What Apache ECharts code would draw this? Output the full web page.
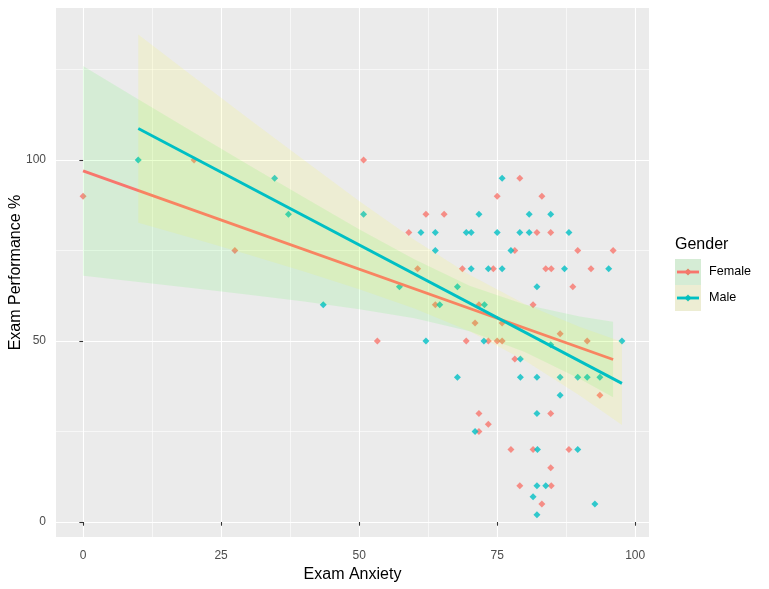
<!DOCTYPE html>
<html><head><meta charset="utf-8">
<script src="https://cdn.jsdelivr.net/npm/echarts@6/dist/echarts.min.js"></script>
<style>html,body{margin:0;padding:0;background:#fff}#c{width:769px;height:589px}</style>
</head><body><div id="c"></div>
<script>
// ---- data ----
const femaleX = [0, 20.1, 27.5, 50.8, 53.3, 59, 60.6, 62.1, 63.8, 65.4, 68.7, 69.4, 71, 71.7, 71.7, 71.7, 73.4, 73.4, 74.3, 75, 75, 75.9, 75.9, 77.5, 78.2, 78.2, 79.1, 79.1, 81.5, 81.5, 82.2, 83.1, 83.1, 83.8, 84.7, 84.8, 84.7, 84.7, 84.8, 86.4, 88, 88.7, 89.6, 91.3, 92, 93.6, 96];
const femaleY = [90, 100, 75, 100, 50, 80, 70, 85, 60, 85, 70, 50, 55, 60, 30, 25, 50, 27, 70, 90, 50, 55, 50, 20, 75, 45, 95, 10, 60, 20, 80, 90, 5, 70, 80, 70, 30, 15, 10, 52, 20, 65, 75, 50, 70, 35, 75];
const maleX = [10, 34.7, 37.2, 43.5, 50.8, 57.3, 61.2, 62.1, 63.8, 63.8, 64.6, 67.8, 67.8, 69.4, 70.3, 70.3, 71, 71.7, 72.7, 72.6, 73.4, 75, 75.9, 75.9, 77.5, 79.1, 79.2, 79.2, 80.8, 80.8, 81.5, 82.2, 82.2, 82.2, 82.3, 82.2, 82.2, 83.8, 84.7, 84.7, 86.4, 86.4, 87.2, 88, 89.6, 89.6, 91.3, 92.7, 93.6, 95.2, 97.6];
const maleY = [100, 95, 85, 60, 85, 65, 80, 50, 80, 75, 60, 65, 40, 80, 80, 70, 25, 85, 60, 50, 70, 80, 95, 70, 75, 80, 45, 40, 85, 80, 7, 65, 40, 30, 20, 10, 2, 10, 85, 49, 40, 35, 70, 80, 40, 20, 40, 5, 40, 70, 50];

// fitted lines (end points)
const femaleFitX = [0, 96];
const femaleFitY = [97.0, 44.9];
const maleFitX = [10, 97.6];
const maleFitY = [108.7, 38.3];

// confidence bands (edges)
const femaleBandX = [0, 10, 20, 30, 40, 50, 60, 70, 80, 90, 96];
const femaleBandLow = [68.0, 66.3, 64.6, 62.8, 60.9, 58.8, 56.3, 52.7, 47.0, 39.5, 34.5];
const femaleBandHigh = [126.0, 116.8, 107.7, 98.6, 89.7, 80.9, 72.6, 65.3, 60.1, 56.8, 55.3];
const maleBandX = [10, 20, 30, 40, 50, 60, 70, 80, 90, 97.6];
const maleBandLow = [82.7, 78.3, 73.8, 69.2, 64.3, 59.0, 52.7, 44.6, 34.9, 26.8];
const maleBandHigh = [134.7, 123.0, 111.4, 100.0, 88.7, 78.0, 68.3, 60.2, 53.9, 49.8];

// ticks
const xMajorTicks = [0, 25, 50, 75, 100];
const xMinorTicks = [12.5, 37.5, 62.5, 87.5];
const yMajorTicks = [0, 50, 100];
const yMinorTicks = [25, 75, 125];

const groups = ['Female', 'Male'];

// ---- styles ----
const FEMALE = '#F8766D', MALE = '#00BFC4';
const FEMALE_FILL = 'rgba(0,255,0,0.09)', MALE_FILL = 'rgba(255,255,0,0.1)';
const FONT = '"Liberation Sans", Arial, sans-serif';
const X_MIN = -4.9, X_MAX = 102.5, Y_MIN = -4.14, Y_MAX = 142.0;

function zip(a, b) { return a.map((v, i) => [v, b[i]]); }

function band(name, xs, lo, hi, fill, z) {
  return {
    type: 'custom', name: name, z: z, silent: true,
    data: [[xs[0], lo[0]]],
    renderItem: function (params, api) {
      const pts = [];
      for (let i = 0; i < xs.length; i++) pts.push(api.coord([xs[i], hi[i]]));
      for (let i = xs.length - 1; i >= 0; i--) pts.push(api.coord([xs[i], lo[i]]));
      return { type: 'polygon', shape: { points: pts }, style: { fill: fill } };
    }
  };
}

function xAxisBase(extra) {
  return Object.assign({
    type: 'value', min: X_MIN, max: X_MAX, gridIndex: 0,
    axisLine: { show: false }
  }, extra);
}
function yAxisBase(extra) {
  return Object.assign({
    type: 'value', min: Y_MIN, max: Y_MAX, gridIndex: 0,
    axisLine: { show: false }
  }, extra);
}

function diamond(cx, cy, r) {
  return [[cx, cy - r], [cx + r, cy], [cx, cy + r], [cx - r, cy]];
}

const chart = echarts.init(document.getElementById('c'), null, { renderer: 'canvas' });
const option = {
  animation: false,
  backgroundColor: '#FFFFFF',
  grid: { left: 56, top: 8, width: 593, height: 529, show: true, backgroundColor: '#EBEBEB', borderWidth: 0, containLabel: false, outerBoundsMode: 'none' },
  xAxis: [
    xAxisBase({
      position: 'bottom',
      name: 'Exam Anxiety', nameLocation: 'middle', nameGap: 30, nameMoveOverlap: false,
      nameTextStyle: { fontFamily: FONT, fontSize: 16, color: '#000' },
      axisTick: { show: true, customValues: xMajorTicks, length: 3.7, lineStyle: { color: '#333333', width: 1.07 } },
      axisLabel: { show: true, customValues: xMajorTicks, margin: 12.5, fontFamily: FONT, fontSize: 12, color: '#4D4D4D' },
      splitLine: { show: true, lineStyle: { color: '#FFFFFF', width: 1.1 } }
    }),
    xAxisBase({
      position: 'top',
      axisTick: { show: false, customValues: xMinorTicks },
      axisLabel: { show: false, customValues: xMinorTicks },
      splitLine: { show: true, lineStyle: { color: '#FFFFFF', width: 0.6 } }
    })
  ],
  yAxis: [
    yAxisBase({
      position: 'left',
      name: 'Exam Performance %', nameLocation: 'middle', nameGap: 32, nameMoveOverlap: false,
      nameTextStyle: { fontFamily: FONT, fontSize: 16, color: '#000' },
      axisTick: { show: true, customValues: yMajorTicks, length: 3.7, lineStyle: { color: '#333333', width: 1.07 } },
      axisLabel: { show: true, customValues: yMajorTicks, margin: 10, fontFamily: FONT, fontSize: 12, color: '#4D4D4D' },
      splitLine: { show: true, lineStyle: { color: '#FFFFFF', width: 1.1 } }
    }),
    yAxisBase({
      position: 'right',
      axisTick: { show: false, customValues: yMinorTicks },
      axisLabel: { show: false, customValues: yMinorTicks },
      splitLine: { show: true, lineStyle: { color: '#FFFFFF', width: 0.6 } }
    })
  ],
  series: [
    { type: 'scatter', name: groups[0], z: 1, symbol: 'diamond', symbolSize: 7, itemStyle: { color: FEMALE }, data: zip(femaleX, femaleY), silent: true },
    { type: 'scatter', name: groups[1], z: 1, symbol: 'diamond', symbolSize: 7, itemStyle: { color: MALE }, data: zip(maleX, maleY), silent: true },
    band(groups[0] + ' band', femaleBandX, femaleBandLow, femaleBandHigh, FEMALE_FILL, 2),
    { type: 'line', name: groups[0] + ' fit', z: 3, symbol: 'none', data: zip(femaleFitX, femaleFitY), lineStyle: { color: FEMALE, width: 2.85 }, silent: true },
    band(groups[1] + ' band', maleBandX, maleBandLow, maleBandHigh, MALE_FILL, 4),
    { type: 'line', name: groups[1] + ' fit', z: 5, symbol: 'none', data: zip(maleFitX, maleFitY), lineStyle: { color: MALE, width: 2.85 }, silent: true }
  ],
  graphic: [
    { type: 'text', x: 675, y: 245, style: { text: 'Gender', font: '16px ' + FONT, fill: '#000', verticalAlign: 'middle', align: 'left' } },
    // Female key
    { type: 'rect', shape: { x: 675, y: 259, width: 26, height: 26 }, style: { fill: '#EBEBEB' } },
    { type: 'polygon', shape: { points: diamond(688, 272, 3.5) }, style: { fill: FEMALE } },
    { type: 'rect', shape: { x: 675, y: 259, width: 26, height: 26 }, style: { fill: FEMALE_FILL } },
    { type: 'line', shape: { x1: 677, y1: 272, x2: 699, y2: 272 }, style: { stroke: FEMALE, lineWidth: 2.85 } },
    { type: 'text', x: 709, y: 272, style: { text: 'Female', font: '12.6px ' + FONT, fill: '#000', verticalAlign: 'middle', align: 'left' } },
    // Male key
    { type: 'rect', shape: { x: 675, y: 285, width: 26, height: 26 }, style: { fill: '#EBEBEB' } },
    { type: 'polygon', shape: { points: diamond(688, 298, 3.5) }, style: { fill: MALE } },
    { type: 'rect', shape: { x: 675, y: 285, width: 26, height: 26 }, style: { fill: MALE_FILL } },
    { type: 'line', shape: { x1: 677, y1: 298, x2: 699, y2: 298 }, style: { stroke: MALE, lineWidth: 2.85 } },
    { type: 'text', x: 709, y: 298, style: { text: 'Male', font: '12.6px ' + FONT, fill: '#000', verticalAlign: 'middle', align: 'left' } }
  ]
};
chart.setOption(option);
</script>
</body></html>
